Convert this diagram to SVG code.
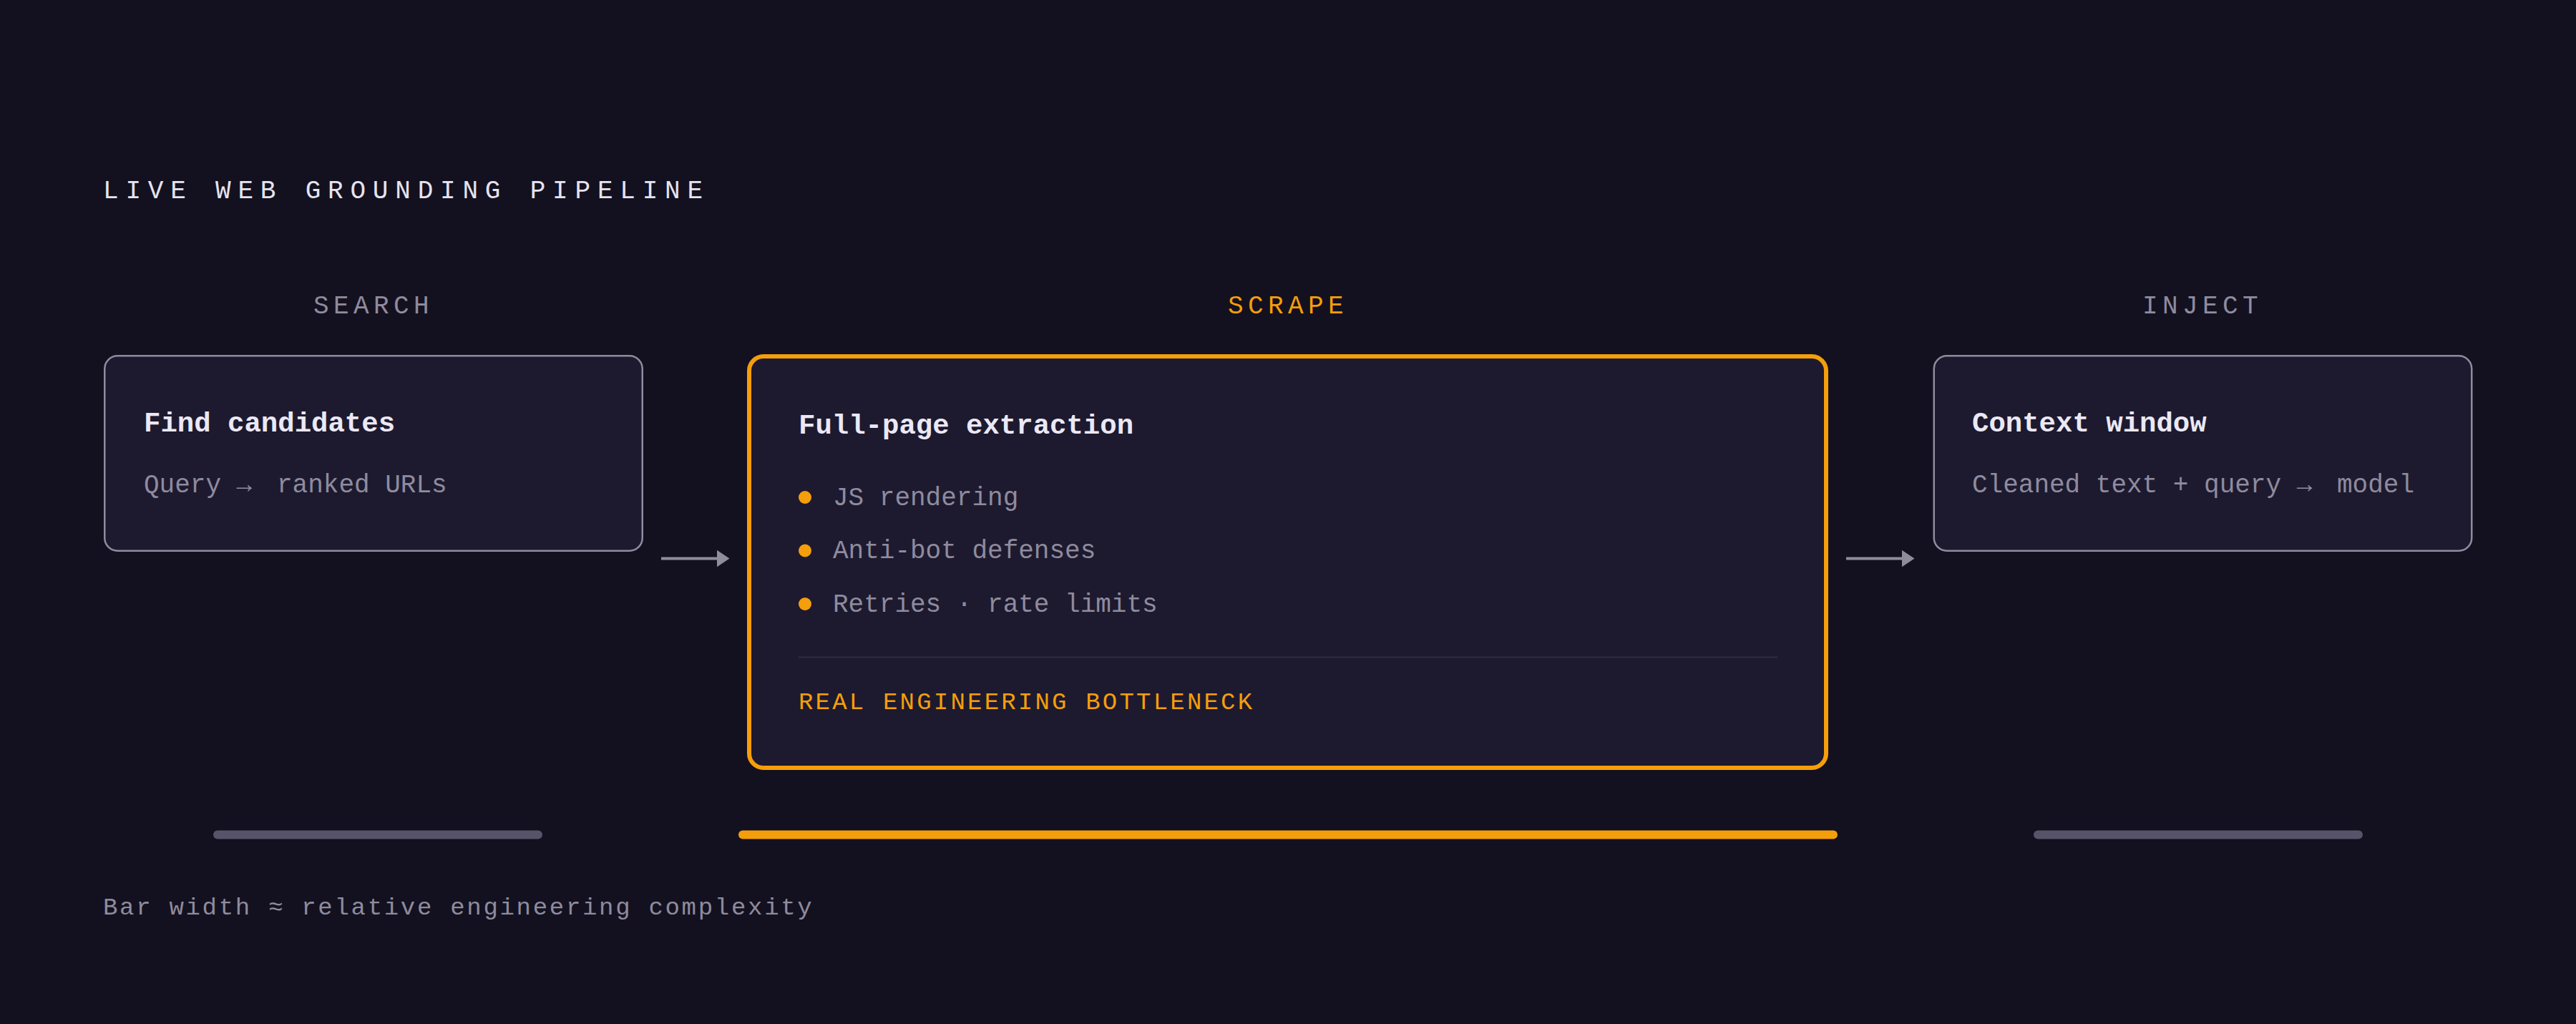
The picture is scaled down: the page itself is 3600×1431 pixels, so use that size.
<svg xmlns="http://www.w3.org/2000/svg" width="3600" height="1431" viewBox="0 0 3600 1431">
  <defs>
    <style>
      .mono { font-family: "Liberation Mono", "DejaVu Sans Mono", monospace; }
      .title { font-size: 36px; letter-spacing: 9.8px; fill: #e6e3f0; }
      .stage { font-size: 36px; letter-spacing: 6.4px; fill: #8f8b9e; text-anchor: middle; }
      .stage-hot { fill: #f59e0b; }
      .node-title { font-size: 39px; font-weight: bold; fill: #ebe8f5; }
      .node-sub { font-size: 36px; fill: #8f8b9e; }
      .tag { font-size: 34px; letter-spacing: 3.2px; fill: #f59e0b; }
      .footer { font-size: 34px; letter-spacing: 2.7px; fill: #8f8b9e; }
      .box { fill: #1d1a2f; stroke: #8f8c9e; stroke-width: 2.5; }
      .box-hot { fill: #1d1a2f; stroke: #f59e0b; stroke-width: 6; }
      .bullet { fill: #f59e0b; }
      .conn { stroke: #8f8c9c; stroke-width: 4; fill: none; }
      .bar { fill: #57546a; }
      .bar-hot { fill: #f59e0b; }
    </style>
    <marker id="arrowhead" markerUnits="userSpaceOnUse" markerWidth="18" markerHeight="24" refX="0" refY="11.7" orient="auto">
      <path d="M0,0 L17.5,11.7 L0,23.4 Z" fill="#8f8c9c"/>
    </marker>
  </defs>

  <rect x="0" y="0" width="3600" height="1431" fill="#13111f"/>

  <text class="mono title" x="144" y="277">LIVE WEB GROUNDING PIPELINE</text>

  <g id="stage-labels">
    <text class="mono stage" x="522" y="438">SEARCH</text>
    <text class="mono stage stage-hot" x="1800" y="438">SCRAPE</text>
    <text class="mono stage" x="3078" y="438">INJECT</text>
  </g>

  <g id="node-search">
    <rect class="box" x="146.25" y="497.25" width="751.5" height="272.5" rx="18"/>
    <text class="mono node-title" x="201" y="603">Find candidates</text>
    <text class="mono node-sub" x="201" y="688">Query →<tspan x="387">ranked URLs</tspan></text>
  </g>

  <g id="node-scrape">
    <rect class="box-hot" x="1047" y="498" width="1505" height="575" rx="20"/>
    <text class="mono node-title" x="1116" y="606">Full-page extraction</text>
    <circle class="bullet" cx="1125" cy="695" r="9"/>
    <text class="mono node-sub" x="1164" y="706">JS rendering</text>
    <circle class="bullet" cx="1125" cy="769.5" r="9"/>
    <text class="mono node-sub" x="1164" y="780">Anti-bot defenses</text>
    <circle class="bullet" cx="1125" cy="844" r="9"/>
    <text class="mono node-sub" x="1164" y="855">Retries · rate limits</text>
    <line x1="1116" y1="918.5" x2="2484" y2="918.5" stroke="#2d2a3e" stroke-width="2.7"/>
    <text class="mono tag" x="1116" y="991">REAL ENGINEERING BOTTLENECK</text>
  </g>

  <g id="node-inject">
    <rect class="box" x="2702.75" y="497.25" width="751.5" height="272.5" rx="18"/>
    <text class="mono node-title" x="2756" y="603">Context window</text>
    <text class="mono node-sub" x="2756" y="688">Cleaned text + query →<tspan x="3266">model</tspan></text>
  </g>

  <g id="connectors">
    <line class="conn" x1="924" y1="780.5" x2="1002" y2="780.5" marker-end="url(#arrowhead)"/>
    <line class="conn" x1="2580" y1="780.5" x2="2658" y2="780.5" marker-end="url(#arrowhead)"/>
  </g>

  <g id="complexity-bars">
    <rect class="bar" x="298" y="1160.5" width="460" height="12" rx="6"/>
    <rect class="bar-hot" x="1032" y="1160.5" width="1536" height="12" rx="6"/>
    <rect class="bar" x="2842" y="1160.5" width="460" height="12" rx="6"/>
  </g>

  <text class="mono footer" x="144" y="1278">Bar width ≈ relative engineering complexity</text>
</svg>
